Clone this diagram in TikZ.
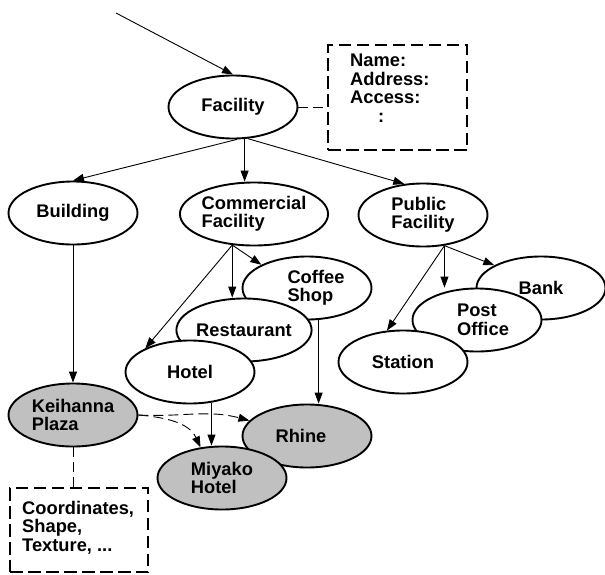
\documentclass[tikz,border=0pt]{standalone}
\usepackage{fontspec}
\setmainfont{Liberation Sans}
\usetikzlibrary{arrows.meta,shapes.geometric}
\begin{document}
\begin{tikzpicture}[x=1pt,y=-1pt,
  every node/.style={font=\fontsize{18.3}{18.5}\selectfont\bfseries},
  ent/.style={ellipse,draw,line width=1.9pt,fill=white,minimum width=129pt,minimum height=63pt,inner sep=0pt,align=left},
  inst/.style={ent,fill=gboxgray},
  arr/.style={line width=0.9pt,-{Triangle[length=11pt,width=8pt]}},
  darr/.style={line width=0.9pt,dash pattern=on 10pt off 5pt,-{Triangle[length=11pt,width=8pt]}},
  dline/.style={line width=0.9pt,dash pattern=on 10pt off 5pt},
  dbox/.style={draw,line width=1.8pt,dash pattern=on 12.5pt off 5.5pt,inner sep=0pt},
  btext/.style={anchor=north west,inner sep=0pt,align=left}]
\definecolor{gboxgray}{RGB}{192,192,192}
\useasboundingbox (0,0) rectangle (605,574);
% nodes
\node[ent] (Facility) at (233,107) {Facility};
\node[ent] (Building) at (73,213) {Building};
\node[ent] (Commercial) at (254,214) {Commercial\\Facility};
\node[ent] (Public) at (423,215) {Public\\Facility};
\node[ent] (Coffee) at (307,288) {\hspace*{18pt}Coffee\\\hspace*{18pt}Shop};
\node[ent] (Restaurant) at (244,330) {Restaurant};
\node[ent] (Hotel) at (190,372) {Hotel};
\node[ent] (Bank) at (541,288) {Bank};
\node[ent] (PostOffice) at (477,320) {\hspace*{12pt}Post\\\hspace*{12pt}Office};
\node[ent] (Station) at (403,362) {Station};
\node[inst] (Keihanna) at (73,415) {Keihanna\\Plaza};
\node[inst] (Rhine) at (307,436) {Rhine\hspace*{12pt}};
\node[inst] (Miyako) at (222,478) {Miyako\\Hotel};
% dashed boxes
\node[dbox,minimum width=139pt,minimum height=105pt] (namebox) at (397.5,97.5) {};
\node[btext] (nametext) at (350,54) {Name:\\Address:\\Access:\\\hspace{28pt}:};
\node[dbox,minimum width=138pt,minimum height=84pt] (coordbox) at (79,530) {};
\node[btext] (coordtext) at (22,501) {Coordinates,\\Shape,\\Texture, ...};
% connectors
\coordinate (in) at (116,13);
\draw[arr] (in) -- (Facility.north);
\draw[arr] (Facility.-83) -- (Building.north);
\draw[arr] (Facility.-70) -- (Facility.-70 |- Commercial.north);
\draw[arr] (Facility.-65) -- (Public.121);
\draw[arr] (Commercial.-125) -- (Hotel.152);
\draw[arr] (Commercial.-125) -- (Commercial.-125 |- Restaurant.north);
\draw[arr] (Commercial.-125) -- (Coffee.153);
\draw[arr] (Public.-55) -- (Station.117);
\draw[arr] (Public.-55) -- (Public.-55 |- PostOffice.north);
\draw[arr] (Public.-55) -- (Bank.154);
\draw[arr] (Building.south) -- (Keihanna.north);
\draw[arr] (Coffee.-70) -- (Coffee.-70 |- Rhine.north);
\draw[arr] (Hotel.-55) -- (Hotel.-55 |- Miyako.north);
\draw[darr] (Keihanna.east) to[out=-3,in=165] (Rhine.165);
\draw[darr] (Keihanna.east) to[out=-5,in=115] (Miyako.125);
\draw[dline] (Keihanna.south) -- (Keihanna.south |- coordbox.north);
\draw[dline] (Facility.east) -- (Facility.east -| namebox.west);
\end{tikzpicture}
\end{document}
